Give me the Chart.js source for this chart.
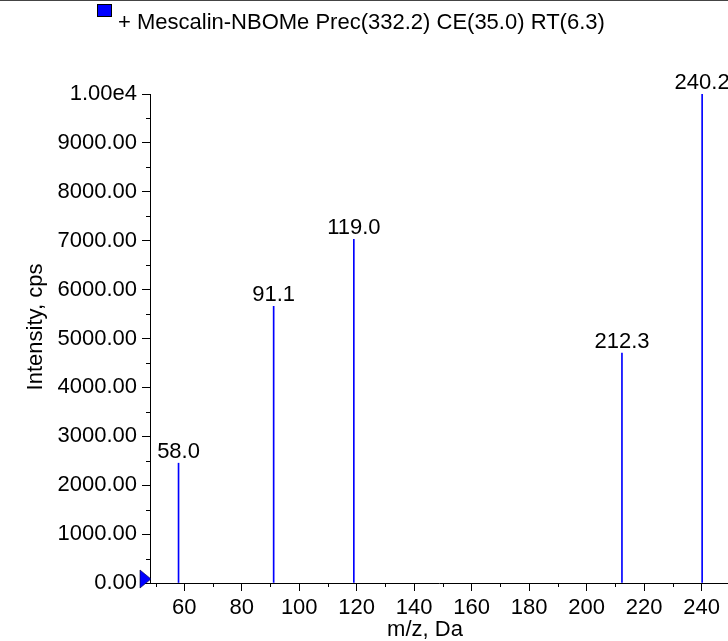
<!DOCTYPE html>
<html><head><meta charset="utf-8">
<script src="https://cdn.jsdelivr.net/npm/chart.js@4.4.1/dist/chart.umd.min.js"></script>
<style>html,body{margin:0;padding:0;background:#fff}#wrap{width:728px;height:641px;position:relative}</style>
</head><body><div id="wrap"><canvas id="c" width="728" height="641"></canvas></div>
<script>
const titleText = '+ Mescalin-NBOMe Prec(332.2) CE(35.0) RT(6.3)';
const xTitle = 'm/z, Da';
const yTitle = 'Intensity, cps';
const peakMz = [58.0, 91.1, 119.0, 212.3, 240.2];
const peakIntensity = [2450, 5660, 7030, 4700, 10000];
const peakLabels = ['58.0', '91.1', '119.0', '212.3', '240.2'];
const xTickValues = [60, 80, 100, 120, 140, 160, 180, 200, 220, 240];
const xMinorValues = [50, 70, 90, 110, 130, 150, 170, 190, 210, 230];
const yTickValues = [0, 1000, 2000, 3000, 4000, 5000, 6000, 7000, 8000, 9000, 10000];
const yTickLabels = ['0.00', '1000.00', '2000.00', '3000.00', '4000.00', '5000.00', '6000.00', '7000.00', '8000.00', '9000.00', '1.00e4'];
const yMinorValues = [500, 1500, 2500, 3500, 4500, 5500, 6500, 7500, 8500, 9500];

const FONT = '"Liberation Sans", Arial, sans-serif';
const FS = 22;

const decor = {
  id: 'decor',
  afterDraw(chart) {
    const ctx = chart.ctx;
    const xs = chart.scales.x, ys = chart.scales.y;
    const ca = chart.chartArea;
    ctx.save();
    // top rule
    ctx.fillStyle = '#444';
    ctx.fillRect(0, 0, 728, 1);
    // legend square + title
    ctx.fillStyle = '#0000ff';
    ctx.fillRect(97, 4, 15, 13);
    ctx.strokeStyle = '#000';
    ctx.lineWidth = 1;
    ctx.strokeRect(97.5, 4.5, 14, 12);
    ctx.fillStyle = '#000';
    ctx.font = FS + 'px ' + FONT;
    ctx.textAlign = 'left';
    ctx.textBaseline = 'alphabetic';
    ctx.fillText(titleText, 118, 29);
    // minor ticks
    ctx.strokeStyle = '#000';
    ctx.beginPath();
    yMinorValues.forEach(v => {
      const y = Math.round(ys.getPixelForValue(v)) + 0.5;
      ctx.moveTo(ca.left - 4, y); ctx.lineTo(ca.left, y);
    });
    xMinorValues.forEach(v => {
      const x = Math.round(xs.getPixelForValue(v)) + 0.5;
      ctx.moveTo(x, ca.bottom); ctx.lineTo(x, ca.bottom + 4);
    });
    ctx.stroke();
    // peak labels
    ctx.textAlign = 'center';
    peakMz.forEach((m, i) => {
      const x = xs.getPixelForValue(m);
      const y = ys.getPixelForValue(peakIntensity[i]);
      ctx.fillText(peakLabels[i], x, y - 5);
    });
    // axis titles
    ctx.fillText(xTitle, 425, 636);
    ctx.save();
    ctx.translate(42, 327);
    ctx.rotate(-Math.PI / 2);
    ctx.fillText(yTitle, 0, 0);
    ctx.restore();
    // origin marker
    const y0 = ys.getPixelForValue(0);
    ctx.fillStyle = '#0000ff';
    ctx.beginPath();
    ctx.moveTo(140, y0 - 13);
    ctx.lineTo(140, y0 + 5);
    ctx.lineTo(151, y0 - 4);
    ctx.closePath();
    ctx.fill();
    ctx.strokeStyle = '#000033';
    ctx.lineWidth = 0.6;
    ctx.stroke();
    ctx.restore();
  }
};

new Chart(document.getElementById('c'), {
  type: 'bar',
  data: {
    datasets: [{
      data: peakMz.map((m, i) => ({ x: m, y: peakIntensity[i] })),
      backgroundColor: '#0000ff',
      borderWidth: 0,
      barThickness: 1
    }]
  },
  options: {
    responsive: false,
    animation: false,
    devicePixelRatio: 1,
    layout: { padding: { top: 94, right: 0, bottom: 0, left: 0 } },
    plugins: { legend: { display: false }, title: { display: false }, tooltip: { enabled: false } },
    scales: {
      x: {
        type: 'linear',
        offset: false,
        min: 48.07,
        max: 249.2,
        afterBuildTicks(s) { s.ticks = xTickValues.map(v => ({ value: v })); },
        afterFit(s) { s.height = 58; },
        ticks: { color: '#000', font: { size: FS, family: FONT }, padding: 4, maxRotation: 0, autoSkip: false,
          callback: v => String(v) },
        grid: { display: true, offset: false, drawOnChartArea: false, drawTicks: true, tickLength: 8, tickColor: '#000', tickWidth: 1 },
        border: { display: true, color: '#000', width: 1 }
      },
      y: {
        type: 'linear',
        min: 0,
        max: 10000,
        afterBuildTicks(s) { s.ticks = yTickValues.map(v => ({ value: v })); },
        afterFit(s) { s.width = 150; },
        ticks: { color: '#000', font: { size: FS, family: FONT }, padding: 5, autoSkip: false,
          callback: v => yTickLabels[yTickValues.indexOf(v)] },
        grid: { display: true, drawOnChartArea: false, drawTicks: true, tickLength: 8, tickColor: '#000', tickWidth: 1 },
        border: { display: true, color: '#000', width: 1 }
      }
    }
  },
  plugins: [decor]
});
</script>
</body></html>
